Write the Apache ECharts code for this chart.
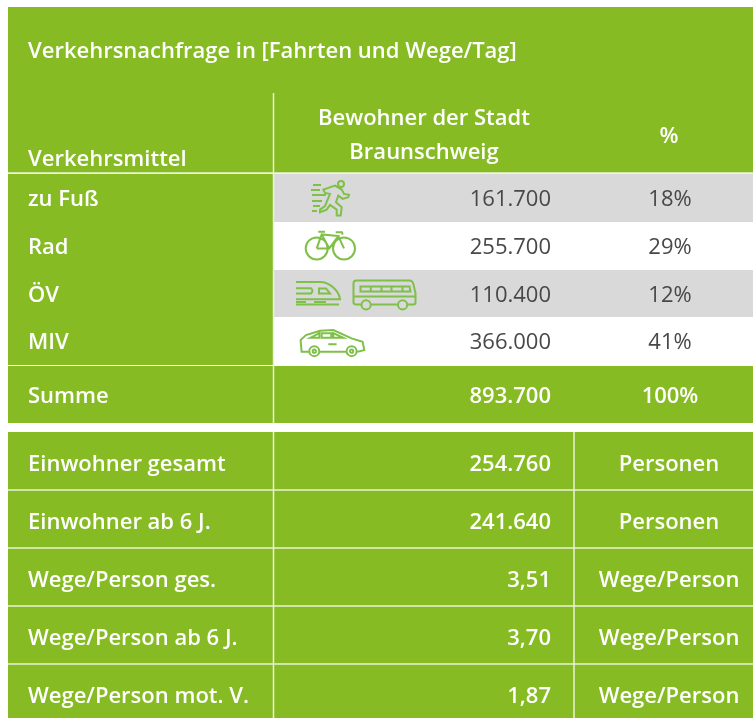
<!DOCTYPE html>
<html>
<head>
<meta charset="utf-8">
<title>Verkehrsnachfrage</title>
<script src="https://cdn.jsdelivr.net/npm/echarts@6/dist/echarts.min.js"></script>
<style>
  html, body { margin: 0; padding: 0; background: #fff; }
  #main { width: 753px; height: 718px; }
</style>
</head>
<body>
<div id="main"></div>
<script>
// data
const tableTitle = 'Verkehrsnachfrage in [Fahrten und Wege/Tag]';
const headLabel = 'Verkehrsmittel';
const headGroup = 'Bewohner der Stadt\nBraunschweig';
const headShare = '%';
const modes = ['zu Fuß', 'Rad', 'ÖV', 'MIV'];
const modeTrips = [161700, 255700, 110400, 366000];
const modeShare = [18, 29, 12, 41];
const sumLabel = 'Summe';
const sumTrips = 893700;
const sumShare = 100;
const keyLabels = ['Einwohner gesamt', 'Einwohner ab 6 J.', 'Wege/Person ges.', 'Wege/Person ab 6 J.', 'Wege/Person mot. V.'];
const keyValues = [254760, 241640, 3.51, 3.70, 1.87];
const keyDigits = [0, 0, 2, 2, 2];
const keyUnits = ['Personen', 'Personen', 'Wege/Person', 'Wege/Person', 'Wege/Person'];

// look
const GREEN = '#86BB23', GREY = '#D9D9D9', LINE = '#EAF2D8', ICON = '#7FC048', DARK = '#484848';
const FONT = '"Open Sans", sans-serif';
const SIZE = 22;
// column edges on the x axis
const X0 = 8, X1 = 273.5, X2 = 574, X3 = 753;
const TEXT_X = 28, VALUE_X = 551, SHARE_X = 670, UNIT_X = 669, HEAD_X = 424;
const TEXT_DROP = 2;

// icons, drawn around 0,0
const icons = {
  run: 'M-6.7-8.3L5-12.3L11.7-8.3L14-4L19-3L18.3-.7L12.7 1L8.3-2.3L6 4.3L11.7 9.3L10.7 17.7L6.7 17.7L6.7 11.7L0 7L-3.3 11.7L-10 14.3L-10 11.7L-5 8.3L0-4L-5-5Z' +
    'M8 -14a3 3 0 1 0 6 0a3 3 0 1 0 -6 0' +
    'M-17-13L-9-13M-19-8L-10-8M-18-3L-4-3M-18 3L-8 3M-17 8L-10 8M-18 13L-13 13',
  bike: 'M-24.3 2.8a11 11 0 1 0 22 0a11 11 0 1 0 -22 0M3 2.8a11 11 0 1 0 22 0a11 11 0 1 0 -22 0' +
    'M-13.3 2.8L-8.3-11.2L8.3-9.5L-.7 2.8L-13.3 2.8M-8.3-11.2L-.7 2.8M8.3-9.5L14 2.8' +
    'M-11.7-13.8L-5-13.8M5.7-13.5L12-13.5L12.7-11',
  train: 'M-22-11.5L2-11.5C12-11.5 21-2 22 5.8L-22 5.8' +
    'M-22-5.2L-7-5.2Q-4-2.5-7 0L-22 0M1-5L8-5L12 0L1 0Z' +
    'M-22 11L21 11M-22 8.7L-12 8.7M-4 8.7L8 8.7',
  bus: 'M-23 11L-28 11Q-31 11-31 9L-31-10Q-31-13-28-13L25-13Q28-13 29-9L31 0L31 9Q31 11 29 11L23 11M-14 11L13.5 11' +
    'M-23 11.5a4.6 4.6 0 1 0 9.2 0a4.6 4.6 0 1 0 -9.2 0M13.5 11.5a4.6 4.6 0 1 0 9.2 0a4.6 4.6 0 1 0 -9.2 0' +
    'M-24-7L25-7L26-2L-24-2ZM-13.7-7L-13.7-2M-3-7L-3-2M7-7L7-2M18-7L18-2M-31 3L31 3',
  car: 'M-23 10.7L-30.7 10.7L-31.7-1L-26.3-6L-12.3-10.3L1-11L19.3-2.7L30.3 .7L32 9L25 10.7M-13 10.7L13.5 10.7' +
    'M-23 10a5 5 0 1 0 10 0a5 5 0 1 0 -10 0M14.3 10a5 5 0 1 0 10 0a5 5 0 1 0 -10 0' +
    'M-19.6 10a1.6 1.6 0 1 0 3.2 0a1.6 1.6 0 1 0 -3.2 0M17.7 10a1.6 1.6 0 1 0 3.2 0a1.6 1.6 0 1 0 -3.2 0' +
    'M-10.7-8L-1-8L-1-3.3L-10.7-3.3ZM1-8L11-3.3L1-3.3ZM-22-3.3L-13-8L-13-3.3ZM-4 3L4.3 3'
};
const modeIcons = [[['run', 330]], [['bike', 330]], [['train', 318], ['bus', 384.5]], [['car', 332.3]]];

const de = (v, d) => v.toLocaleString('de-DE', { minimumFractionDigits: d || 0, maximumFractionDigits: d || 0 });

// cells per block, each block is one grid with its own y axis
const white = { color: '#fff', fontWeight: 600 };
const plain = { color: DARK, fontWeight: 400 };
function textCell(x0, x1, row, fill, text, x, align, style, dy) {
  return { x0: x0, x1: x1, row: row, fill: fill, text: text, x: x, align: align, style: style, dy: dy || 0 };
}

const blocks = [
  { top: 7, height: 86, rows: ['title'], cells: [
    textCell(X0, X3, 0, GREEN, tableTitle, TEXT_X, 'left', white, 0)
  ] },
  { top: 93, height: 80, rows: ['head'], cells: [
    textCell(X0, X1, 0, GREEN, headLabel, TEXT_X, 'left', white, 25),
    textCell(X1, X2, 0, GREEN, headGroup, HEAD_X, 'center', white, 1),
    textCell(X2, X3, 0, GREEN, headShare, UNIT_X, 'center', white, 2)
  ] },
  { top: 174, height: 191, rows: modes, cells: [] },
  { top: 366, height: 57, rows: [sumLabel], cells: [
    textCell(X0, X1, 0, GREEN, sumLabel, TEXT_X, 'left', white),
    textCell(X1, X2, 0, GREEN, de(sumTrips), VALUE_X, 'right', white),
    textCell(X2, X3, 0, GREEN, sumShare + '%', SHARE_X, 'center', white)
  ] },
  // last row is cut off by the page edge, so 4.93 rows of 58px show
  { top: 432, height: 286, rows: keyLabels, cut: 4.43, cells: [] }
];
modes.forEach((m, i) => {
  const band = i % 2 ? '#fff' : GREY;
  blocks[2].cells.push(textCell(X0, X1, i, GREEN, m, TEXT_X, 'left', white));
  blocks[2].cells.push(Object.assign(textCell(X1, X2, i, band, de(modeTrips[i]), VALUE_X, 'right', plain), { icons: modeIcons[i] }));
  blocks[2].cells.push(textCell(X2, X3, i, band, modeShare[i] + '%', SHARE_X, 'center', plain));
});
keyLabels.forEach((k, i) => {
  blocks[4].cells.push(textCell(X0, X1, i, GREEN, k, TEXT_X, 'left', white, 2));
  blocks[4].cells.push(textCell(X1, X2, i, GREEN, de(keyValues[i], keyDigits[i]), VALUE_X, 'right', white, 2));
  blocks[4].cells.push(textCell(X2, X3, i, GREEN, keyUnits[i], UNIT_X, 'center', white, 2));
});

function renderCell(cells, params, api) {
  const c = cells[params.dataIndex];
  const left = api.coord([c.x0, c.row]);
  const right = api.coord([c.x1, c.row]);
  const at = api.coord([c.x, c.row]);
  const h = api.size([0, 1])[1];
  const yTop = Math.round(left[1] - h / 2), yBottom = Math.round(left[1] + h / 2);
  const children = [{
    type: 'rect',
    shape: { x: left[0], y: yTop, width: right[0] - left[0], height: yBottom - yTop },
    style: { fill: c.fill }
  }, {
    type: 'text',
    x: at[0],
    y: at[1] + c.dy + TEXT_DROP,
    style: {
      text: c.text, fill: c.style.color, font: c.style.fontWeight + ' ' + SIZE + 'px ' + FONT,
      align: c.align, verticalAlign: 'middle', lineHeight: 34
    }
  }];
  (c.icons || []).forEach(ic => {
    children.push({
      type: 'path',
      x: api.coord([ic[1], c.row])[0],
      y: at[1],
      shape: { pathData: icons[ic[0]] },
      style: { fill: 'none', stroke: ICON, lineWidth: 2 }
    });
  });
  return { type: 'group', children: children };
}

// the pale rules between cells, as lines on the same axes
const ruleSets = [
  [],
  [[X1, 0, 1]],
  [[X1, 0, 4]],
  [[X1, 0, 1]],
  [[X1, 0, 5], [X2, 0, 5]]
];
function renderRules(sets, params, api) {
  const s = sets[params.dataIndex];
  const h = api.size([0, 1])[1];
  const a = api.coord([s[0], s[1]]);
  return {
    type: 'rect',
    shape: { x: a[0] - 0.75, y: a[1] - h / 2, width: 1.5, height: h * s[2] },
    style: { fill: LINE }
  };
}
function renderRows(params, api) {
  const a = api.coord([X0, api.value(1)]);
  const b = api.coord([X3, api.value(1)]);
  const h = api.size([0, 1])[1];
  return {
    type: 'rect',
    shape: { x: a[0], y: a[1] + h / 2 - 0.75, width: b[0] - a[0], height: 1.5 },
    style: { fill: LINE }
  };
}

const grid = [], xAxis = [], yAxis = [], series = [];
blocks.forEach((b, i) => {
  grid.push({ left: 0, right: 0, top: b.top, height: b.height });
  xAxis.push({ type: 'value', gridIndex: i, min: 0, max: 753, show: false });
  yAxis.push(b.cut
    ? { type: 'value', gridIndex: i, min: -0.5, max: b.cut, inverse: true, show: false }
    : { type: 'category', gridIndex: i, data: b.rows, inverse: true, show: false });
  series.push({
    type: 'custom', xAxisIndex: i, yAxisIndex: i, silent: true, clip: false,
    data: b.cells.map(c => [c.x0, c.row]),
    renderItem: (p, api) => renderCell(b.cells, p, api)
  });
  series.push({
    type: 'custom', xAxisIndex: i, yAxisIndex: i, silent: true, clip: false, z: 3,
    data: ruleSets[i].map(s => [s[0], s[1]]),
    renderItem: (p, api) => renderRules(ruleSets[i], p, api)
  });
});
// horizontal rules: under the head row and between the lower rows
series.push({
  type: 'custom', xAxisIndex: 1, yAxisIndex: 1, silent: true, clip: false, z: 3,
  data: [[X0, 0]], renderItem: renderRows
});
series.push({
  type: 'custom', xAxisIndex: 4, yAxisIndex: 4, silent: true, clip: false, z: 3,
  data: [[X0, 0], [X0, 1], [X0, 2], [X0, 3]], renderItem: renderRows
});

var myChart = echarts.init(document.getElementById('main'), null, { renderer: 'canvas' });
myChart.setOption({ animation: false, backgroundColor: '#fff', tooltip: { show: false }, grid: grid, xAxis: xAxis, yAxis: yAxis, series: series });
</script>
</body>
</html>
